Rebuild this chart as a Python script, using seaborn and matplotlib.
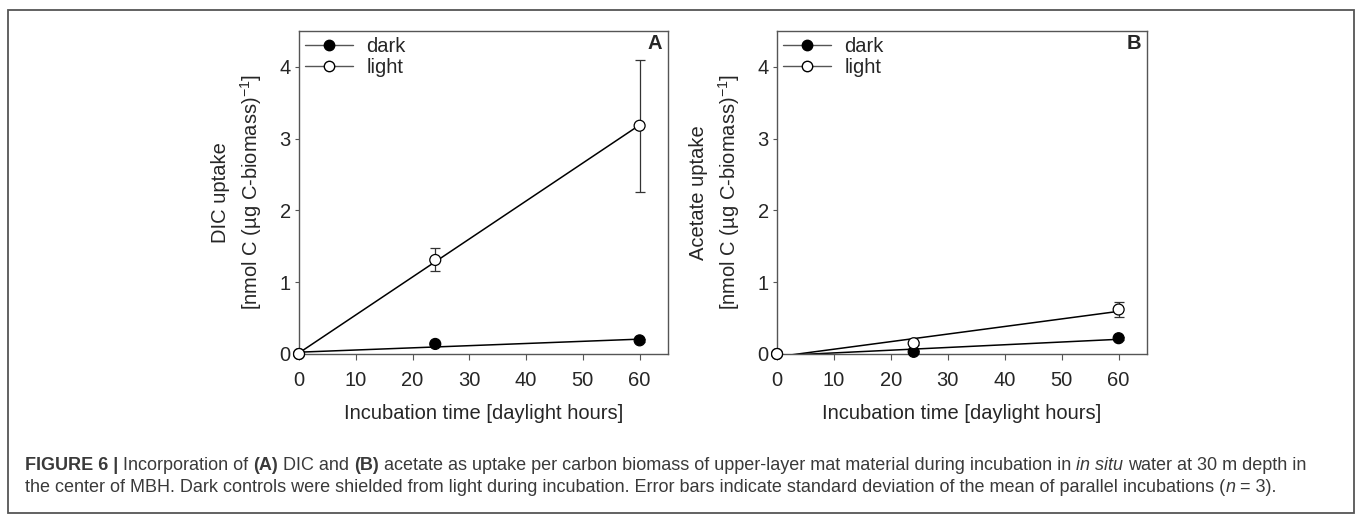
import numpy as np
import pandas as pd
import matplotlib
matplotlib.use('Agg')
import matplotlib.pyplot as plt
from matplotlib.lines import Line2D
from matplotlib.patches import Rectangle
import seaborn as sns

# values
hours = [0, 24, 60]
dic_dark = [0.0, 0.14, 0.19]
dic_dark_sd = [0.0, 0.02, 0.02]
dic_light = [0.0, 1.31, 3.18]
dic_light_sd = [0.0, 0.16, 0.92]
ace_dark = [0.0, 0.03, 0.22]
ace_dark_sd = [0.0, 0.01, 0.02]
ace_light = [0.0, 0.15, 0.62]
ace_light_sd = [0.0, 0.02, 0.11]
treatments = ['dark', 'light']

sns.set_style('ticks')
plt.rcParams['font.family'] = ['Liberation Sans', 'DejaVu Sans']
plt.rcParams['mathtext.fontset'] = 'custom'
plt.rcParams['mathtext.rm'] = 'Liberation Sans'
plt.rcParams['mathtext.it'] = 'Liberation Sans:italic'
plt.rcParams['mathtext.bf'] = 'Liberation Sans:bold'

W, H = 1358, 514
FS = 14.5
fig = plt.figure(figsize=(W / 100, H / 100), dpi=100)
ax_a = fig.add_axes([0.2202, 0.3113, 0.2717, 0.6284])
ax_b = fig.add_axes([0.5722, 0.3113, 0.2725, 0.6284])

spine_col = '#555555'


def panel(ax, dark, dark_sd, light, light_sd, ylabel, letter):
    df = pd.DataFrame({
        'hours': hours * 2,
        'uptake': dark + light,
        'sd': dark_sd + light_sd,
        'treatment': ['dark'] * 3 + ['light'] * 3,
    })
    for name in treatments:
        sub = df[df['treatment'] == name]
        sns.regplot(data=sub, x='hours', y='uptake', ax=ax, scatter=False,
                    ci=None, truncate=True,
                    line_kws=dict(color='black', lw=1.1, zorder=2))
    ax.errorbar(df['hours'], df['uptake'], yerr=df['sd'], fmt='none',
                ecolor='#333333', elinewidth=0.9, capsize=3.8, capthick=0.9,
                clip_on=False, zorder=3)
    sns.scatterplot(data=df, x='hours', y='uptake', hue='treatment',
                    palette={'dark': 'black', 'light': 'white'},
                    edgecolor='black', linewidth=0.9, s=62, ax=ax,
                    legend=False, clip_on=False, zorder=5)

    ax.set_xlim(0, 65)
    ax.set_ylim(0, 4.5)
    ax.set_xticks(range(0, 61, 10))
    ax.set_yticks(range(0, 5))
    for sp in ax.spines.values():
        sp.set_color(spine_col)
        sp.set_linewidth(1.0)
    ax.tick_params(axis='x', direction='out', length=4, width=0.8,
                   color=spine_col, labelsize=FS, pad=8)
    ax.tick_params(axis='y', direction='out', length=3, width=0.8,
                   color=spine_col, labelsize=FS, pad=3)
    ax.set_xlabel('Incubation time [daylight hours]', fontsize=FS)
    ax.xaxis.set_label_coords(0.5, -0.155)
    ax.set_ylabel(ylabel, fontsize=FS, linespacing=1.4)
    ax.yaxis.set_label_coords(-0.095, 0.5)
    ax.text(0.985, 0.99, letter, transform=ax.transAxes, ha='right', va='top',
            fontsize=FS, fontweight='bold')

    handles = [Line2D([], [], color=spine_col, lw=1.0, marker='o', markersize=7.5,
                      markerfacecolor=fc, markeredgecolor='black')
               for fc in ['black', 'white']]
    ax.legend(handles, treatments, loc='upper left', frameon=False, fontsize=FS,
              handlelength=2.4, handletextpad=0.65, labelspacing=0.1,
              borderaxespad=0.25, borderpad=0.05)


panel(ax_a, dic_dark, dic_dark_sd, dic_light, dic_light_sd,
      'DIC uptake\n[nmol C (µg C-biomass)$^{-1}$]', 'A')
panel(ax_b, ace_dark, ace_dark_sd, ace_light, ace_light_sd,
      'Acetate uptake\n[nmol C (µg C-biomass)$^{-1}$]', 'B')

# frame around the whole figure panel
fig.patches.append(Rectangle((8 / W, 1 / H), (1354 - 8) / W, (513 - 10) / H,
                             transform=fig.transFigure, fill=False,
                             edgecolor=spine_col, lw=1.3))

# caption with mixed font styles
line1 = [('FIGURE 6 | ', 'bold', 'normal'), ('Incorporation of ', 'normal', 'normal'),
         ('(A)', 'bold', 'normal'), (' DIC and ', 'normal', 'normal'),
         ('(B)', 'bold', 'normal'),
         (' acetate as uptake per carbon biomass of upper-layer mat material during incubation in ',
          'normal', 'normal'),
         ('in situ', 'normal', 'italic'), (' water at 30 m depth in', 'normal', 'normal')]
line2 = [('the center of MBH. Dark controls were shielded from light during incubation. '
          'Error bars indicate standard deviation of the mean of parallel incubations (',
          'normal', 'normal'),
         ('n', 'normal', 'italic'), (' = 3).', 'normal', 'normal')]

renderer = fig.canvas.get_renderer()
cap_col = '#3a3a3a'


def draw_line(pieces, y, fs):
    probe = fig.text(0, 0, 'a a', fontsize=fs)
    w1 = probe.get_window_extent(renderer).width
    probe.set_text('aa')
    space_w = w1 - probe.get_window_extent(renderer).width
    probe.remove()
    x = 25.0
    made = []
    for txt, wt, st in pieces:
        x += (len(txt) - len(txt.lstrip(' '))) * space_w
        t = fig.text(x / W, y, txt.strip(' '), fontsize=fs, fontweight=wt,
                     fontstyle=st, color=cap_col, va='baseline')
        made.append(t)
        x += t.get_window_extent(renderer).width
        x += (len(txt) - len(txt.rstrip(' '))) * space_w
    return made, x - 25.0


texts, width = draw_line(line1, 1 - 470 / H, 10.5)
for t in texts:
    t.remove()
fs = 10.5 * 1290 / width
draw_line(line1, 1 - 470 / H, fs)
draw_line(line2, 1 - 492 / H, fs)

fig.savefig('out.png', dpi=100)
